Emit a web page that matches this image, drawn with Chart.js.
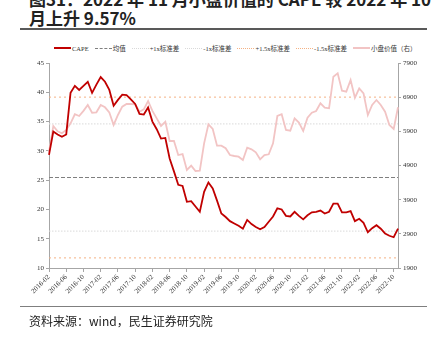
<!DOCTYPE html>
<html>
<head>
<meta charset="utf-8">
<script src="https://cdn.jsdelivr.net/npm/chart.js@4/dist/chart.umd.min.js"></script>
<style>
  html, body { margin: 0; padding: 0; background: #fff; }
  #wrap { position: relative; width: 431px; height: 340px; overflow: hidden; }
  #cape-chart { position: absolute; left: 0; top: 0; }
  .title {
    position: absolute; left: 29px; top: -11px; white-space: nowrap;
    font-family: "Noto Sans CJK SC", sans-serif; font-weight: bold;
    font-size: 17px; line-height: 19px; color: #222;
  }
  .rule { position: absolute; left: 20px; width: 407px; background: #595959; }
  .legend {
    position: absolute; left: 54px; top: 42px; height: 12px; width: 360px;
    display: flex; align-items: center; gap: 6px; white-space: nowrap;
    font-family: "Liberation Serif", "Noto Sans CJK SC", serif; font-size: 6.5px; color: #333;
  }
  .legend .item { display: flex; align-items: center; flex-shrink: 0; }
  .legend .swatch { width: 17px; height: 0; margin-right: 1px; }
  .source {
    position: absolute; left: 29px; top: 313px; white-space: nowrap;
    font-family: "Noto Sans CJK SC", sans-serif; font-size: 12px; line-height: 16px; color: #222;
  }
</style>
</head>
<body>
<div id="wrap">
  <div class="title">图31：2022 年 11 月小盘价值的 CAPE 较 2022 年 10<br>月上升 9.57%</div>
  <div class="rule" style="top:28px;height:2px;"></div>
  <div class="legend" id="legend"></div>
  <canvas id="cape-chart" width="431" height="340"></canvas>
  <div class="rule" style="top:306px;height:1px;background:#7f7f7f;"></div>
  <div class="source">资料来源：wind，民生证券研究院</div>
</div>
<script>
// monthly observations, 2016-02 .. 2022-11
const months = [
  '2016-02','2016-03','2016-04','2016-05','2016-06','2016-07','2016-08','2016-09','2016-10','2016-11','2016-12',
  '2017-01','2017-02','2017-03','2017-04','2017-05','2017-06','2017-07','2017-08','2017-09','2017-10','2017-11','2017-12',
  '2018-01','2018-02','2018-03','2018-04','2018-05','2018-06','2018-07','2018-08','2018-09','2018-10','2018-11','2018-12',
  '2019-01','2019-02','2019-03','2019-04','2019-05','2019-06','2019-07','2019-08','2019-09','2019-10','2019-11','2019-12',
  '2020-01','2020-02','2020-03','2020-04','2020-05','2020-06','2020-07','2020-08','2020-09','2020-10','2020-11','2020-12',
  '2021-01','2021-02','2021-03','2021-04','2021-05','2021-06','2021-07','2021-08','2021-09','2021-10','2021-11','2021-12',
  '2022-01','2022-02','2022-03','2022-04','2022-05','2022-06','2022-07','2022-08','2022-09','2022-10','2022-11'
];

// CAPE of the small-cap value index (left axis)
const capeValues = [
  29.3, 33.3, 32.8, 32.4, 32.8, 39.9, 41.1, 40.4, 41.1, 41.8,
  39.9, 41.3, 42.6, 41.8, 40.4, 37.7, 38.7, 39.6, 39.5, 38.8,
  38.0, 36.3, 36.2, 37.4, 35.0, 33.7, 32.1, 32.2, 28.7, 26.5,
  24.2, 24.0, 21.3, 21.4, 20.5, 19.6, 23.0, 24.6, 23.6, 21.5,
  19.3, 18.7, 18.0, 17.6, 17.2, 16.7, 18.2, 17.5, 17.0, 16.6,
  17.0, 17.9, 18.8, 20.2, 20.0, 18.9, 18.8, 19.6, 18.9, 18.3,
  19.0, 19.5, 19.6, 19.8, 19.3, 19.6, 21.0, 21.0, 19.5, 19.5,
  19.7, 18.0, 18.4, 17.7, 16.1, 16.8, 17.3, 16.7, 15.9, 15.5,
  15.25, 16.71
];

// small-cap value index level (right axis)
const indexValues = [
  5300, 6056, 5900, 5843, 5939, 6135, 6400, 6349, 6500, 6671,
  6446, 6457, 6671, 6603, 6450, 6086, 6378, 6622, 6700, 6700,
  6691, 6475, 6545, 6788, 6500, 6280, 6056, 6182, 5617, 5617,
  5207, 5236, 4768, 4894, 4739, 4748, 5549, 6106, 5969, 5480,
  5480, 5404, 5207, 5178, 5158, 5061, 5421, 5374, 5286, 5081,
  5207, 5228, 5549, 6349, 6400, 5939, 5919, 6281, 6154, 5910,
  6301, 6446, 6496, 6720, 6593, 6574, 7500, 7597, 7090, 7061,
  7403, 6885, 7158, 7012, 6378, 6671, 6817, 6671, 6475, 6086,
  5969, 6606
];

// long-run CAPE statistics
const capeMean = 25.45;
const capeStd = 9.15;

const bandLabels = ['均值', '+1x标准差', '-1x标准差', '+1.5x标准差', '-1.5x标准差'];
const bandMultipliers = [0, 1, -1, 1.5, -1.5];
const bandColors = ['#7f7f7f', '#d9d9d9', '#d9d9d9', '#f4b183', '#f4b183'];
const bandDashes = [[4, 2], [1.5, 1.5], [1.5, 1.5], [2, 3], [2, 3]];

const RED = '#c00000';
const PINK = '#f2c4c4';
const serif = 'Liberation Serif';

const bandSets = bandLabels.map((label, i) => {
    const level = capeMean + bandMultipliers[i] * capeStd;
    return {
        label: label,
        data: [{ x: months[0], y: level }, { x: months[months.length - 1], y: level }],
        borderColor: bandColors[i],
        borderDash: bandDashes[i],
        borderWidth: 1,
        pointRadius: 0,
        yAxisID: 'y',
        order: 2
    };
});

const datasets = [
    {
        label: 'CAPE',
        data: capeValues,
        borderColor: RED,
        borderWidth: 1.8,
        pointRadius: 0,
        tension: 0,
        yAxisID: 'y',
        order: 0
    },
    ...bandSets,
    {
        label: '小盘价值（右）',
        data: indexValues,
        borderColor: PINK,
        borderWidth: 1.8,
        pointRadius: 0,
        tension: 0,
        yAxisID: 'y2',
        order: 1
    }
];

// html legend, built from the datasets so styles stay in one place
const legendEl = document.getElementById('legend');
datasets.forEach(ds => {
    const item = document.createElement('div');
    item.className = 'item';
    const sw = document.createElement('span');
    sw.className = 'swatch';
    const w = ds.borderDash ? 1 : 2;
    sw.style.borderTop = w + 'px ' + (ds.borderDash ? (ds.borderDash[0] > 2 ? 'dashed' : 'dotted') : 'solid') + ' ' + ds.borderColor;
    const txt = document.createElement('span');
    txt.textContent = ds.label;
    item.appendChild(sw);
    item.appendChild(txt);
    legendEl.appendChild(item);
});

const axisColor = '#a6a6a6';
const tickFont = { family: serif, size: 7 };

new Chart(document.getElementById('cape-chart').getContext('2d'), {
    type: 'line',
    data: { labels: months, datasets: datasets },
    options: {
        responsive: false,
        animation: false,
        layout: { padding: { top: 63, left: 0, right: 0, bottom: 0 } },
        plugins: { legend: { display: false }, tooltip: { enabled: false } },
        scales: {
            x: {
                offset: false,
                grid: { drawOnChartArea: false, tickLength: 4, color: axisColor },
                border: { color: axisColor },
                ticks: {
                    autoSkip: false, maxRotation: 45, minRotation: 45, padding: 1,
                    font: tickFont, color: '#333',
                    callback: (v, i) => (i % 4 === 0 ? months[i] : null)
                },
                afterFit: s => { s.height = 72; }
            },
            y: {
                position: 'left', min: 10, max: 45,
                grid: { drawOnChartArea: false, tickLength: 3, color: axisColor },
                border: { color: axisColor },
                ticks: { stepSize: 5, padding: 2, font: tickFont, color: '#333', callback: v => String(v) },
                afterFit: s => { s.width = 49; }
            },
            y2: {
                position: 'right', min: 1900, max: 7900,
                grid: { drawOnChartArea: false, tickLength: 3, color: axisColor },
                border: { color: axisColor },
                ticks: { stepSize: 1000, padding: 2, font: tickFont, color: '#333', callback: v => String(v) },
                afterFit: s => { s.width = 33; }
            }
        }
    }
});
</script>
</body>
</html>
